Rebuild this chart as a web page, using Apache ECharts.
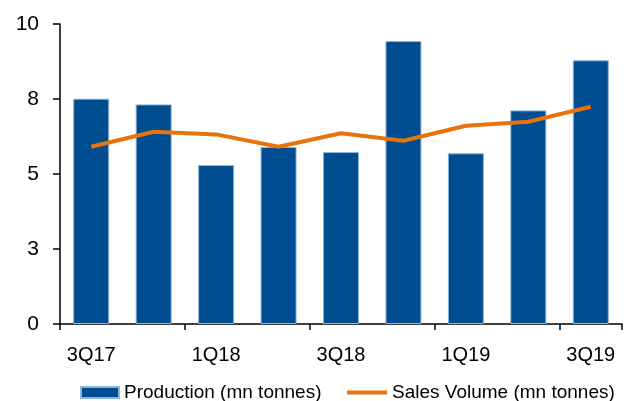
<!DOCTYPE html>
<html>
<head>
<meta charset="utf-8">
<script src="https://cdn.jsdelivr.net/npm/echarts@6/dist/echarts.min.js"></script>
<style>
  html, body { margin: 0; padding: 0; background: #fff; }
  #chart { width: 624px; height: 401px; }
</style>
</head>
<body>
<div id="chart"></div>
<script>
// quarters on the x axis
const quarters = ['3Q17', '4Q17', '1Q18', '2Q18', '3Q18', '4Q18', '1Q19', '2Q19', '3Q19'];
// bars: production, mn tonnes
const production = [7.51, 7.32, 5.3, 5.9, 5.73, 9.43, 5.69, 7.12, 8.79];
// line: sales volume, mn tonnes
const salesVolume = [5.91, 6.41, 6.32, 5.91, 6.36, 6.11, 6.61, 6.74, 7.24];

const font = '"Liberation Sans", Arial, sans-serif';
const chart = echarts.init(document.getElementById('chart'));

chart.setOption({
    animation: false,
    textStyle: { fontFamily: font },
    grid: { left: 60, right: 2, top: 24, bottom: 77 },
    legend: [
        {
            data: ['Production (mn tonnes)'],
            left: 75, top: 378,
            icon: 'rect', itemWidth: 38, itemHeight: 11,
            textStyle: { fontSize: 19, color: '#000', fontFamily: font }
        },
        {
            data: ['Sales Volume (mn tonnes)'],
            left: 342, top: 378,
            icon: 'rect', itemWidth: 40, itemHeight: 4,
            textStyle: { fontSize: 19, color: '#000', fontFamily: font }
        }
    ],
    xAxis: {
        type: 'category',
        data: quarters,
        axisLine: { lineStyle: { color: '#000', width: 1.5 } },
        axisTick: { show: true, length: 6, lineStyle: { color: '#000', width: 1.5 } },
        axisLabel: { interval: 1, fontSize: 20, color: '#000', margin: 21 }
    },
    yAxis: {
        type: 'value',
        min: 0, max: 10, interval: 2.5,
        splitLine: { show: false },
        axisLine: { show: true, lineStyle: { color: '#000', width: 1.5 } },
        axisTick: { show: true, length: 7, lineStyle: { color: '#000', width: 1.5 } },
        axisLabel: {
            fontSize: 21, color: '#000', margin: 21,
            formatter: (v) => String(Math.round(v))
        }
    },
    series: [
        {
            name: 'Production (mn tonnes)',
            type: 'bar',
            data: production,
            barWidth: 36,
            itemStyle: { color: '#004C91', borderColor: '#8FB4DA', borderWidth: 1 }
        },
        {
            name: 'Sales Volume (mn tonnes)',
            type: 'line',
            data: salesVolume,
            symbol: 'none',
            lineStyle: { color: '#E8720C', width: 4 },
            itemStyle: { color: '#E8720C' }
        }
    ]
});
</script>
</body>
</html>
